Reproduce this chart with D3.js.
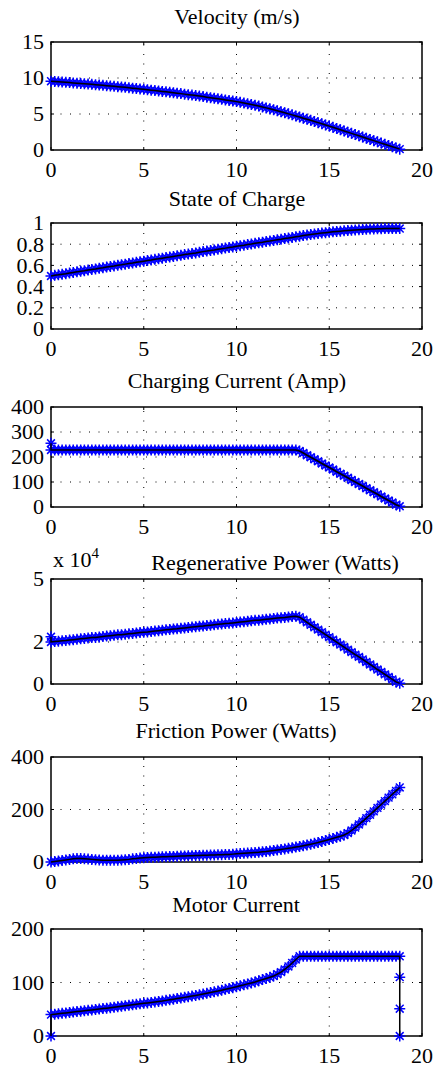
<!DOCTYPE html>
<html lang="en">
<head>
<meta charset="utf-8">
<title>Regenerative braking run</title>
<script src="https://d3js.org/d3.v7.min.js"></script>
<style>
  body { margin: 0; background: #fff; font-family: 'Liberation Serif', 'DejaVu Serif', serif; }
  .tick-label { font-size: 22px; }
  .title { font-size: 22px; text-anchor: middle; }
  .grid { stroke: #000; stroke-width: 1; stroke-dasharray: 1, 8.5; fill: none; }
  .frame { fill: none; stroke: #000; stroke-width: 1.5; }
  .tickmark { stroke: #000; stroke-width: 1; }
  .marker { fill: none; stroke: #0000ff; stroke-width: 1.5; }
  .trace { fill: none; stroke: #000; stroke-width: 1.5; }
</style>
</head>
<body>
<script>

// Time base (s)
var time = [
  0, 0.2, 0.4, 0.6, 0.8, 1.0, 1.2, 1.4, 1.6, 1.8, 2.0, 2.2, 2.4, 2.6, 2.8, 3.0,
  3.2, 3.4, 3.6, 3.8, 4.0, 4.2, 4.4, 4.6, 4.8, 5.0, 5.2, 5.4, 5.6, 5.8, 6.0,
  6.2, 6.4, 6.6, 6.8, 7.0, 7.2, 7.4, 7.6, 7.8, 8.0, 8.2, 8.4, 8.6, 8.8, 9.0,
  9.2, 9.4, 9.6, 9.8, 10.0, 10.2, 10.4, 10.6, 10.8, 11.0, 11.2, 11.4, 11.6, 11.8, 12.0,
  12.2, 12.4, 12.6, 12.8, 13.0, 13.2, 13.4, 13.6, 13.8, 14.0, 14.2, 14.4, 14.6, 14.8, 15.0,
  15.2, 15.4, 15.6, 15.8, 16.0, 16.2, 16.4, 16.6, 16.8, 17.0, 17.2, 17.4, 17.6, 17.8, 18.0,
  18.2, 18.4, 18.6, 18.8
];

var velocity = [
  9.55, 9.51, 9.47, 9.44, 9.40, 9.36, 9.32, 9.28, 9.24, 9.20, 9.16, 9.12, 9.07, 9.03, 8.98, 8.94,
  8.89, 8.84, 8.80, 8.75, 8.70, 8.65, 8.59, 8.54, 8.48, 8.43, 8.37, 8.31, 8.26, 8.20, 8.14,
  8.08, 8.02, 7.95, 7.89, 7.83, 7.76, 7.69, 7.63, 7.56, 7.49, 7.42, 7.34, 7.27, 7.19, 7.12,
  7.04, 6.96, 6.88, 6.80, 6.72, 6.62, 6.52, 6.42, 6.32, 6.22, 6.10, 5.97, 5.85, 5.72, 5.60,
  5.46, 5.31, 5.17, 5.02, 4.88, 4.73, 4.58, 4.42, 4.27, 4.12, 3.96, 3.80, 3.64, 3.48, 3.32,
  3.15, 2.98, 2.82, 2.65, 2.48, 2.31, 2.14, 1.97, 1.80, 1.63, 1.46, 1.30, 1.13, 0.96, 0.79,
  0.62, 0.46, 0.29, 0.12
];

var stateOfCharge = [
  0.500, 0.506, 0.511, 0.517, 0.522, 0.528, 0.534, 0.539, 0.545, 0.550, 0.556, 0.562, 0.567, 0.573, 0.578, 0.584,
  0.590, 0.595, 0.601, 0.606, 0.612, 0.618, 0.623, 0.629, 0.634, 0.640, 0.646, 0.651, 0.657, 0.662, 0.668,
  0.674, 0.679, 0.685, 0.690, 0.696, 0.702, 0.707, 0.713, 0.718, 0.724, 0.730, 0.735, 0.741, 0.746, 0.752,
  0.758, 0.763, 0.769, 0.774, 0.780, 0.786, 0.791, 0.797, 0.802, 0.808, 0.814, 0.819, 0.825, 0.830, 0.836,
  0.842, 0.847, 0.853, 0.858, 0.864, 0.870, 0.875, 0.881, 0.886, 0.891, 0.896, 0.900, 0.905, 0.909, 0.913,
  0.917, 0.920, 0.923, 0.926, 0.929, 0.932, 0.935, 0.937, 0.939, 0.941, 0.943, 0.944, 0.945, 0.946, 0.947,
  0.948, 0.948, 0.948, 0.948
];

var chargingCurrent = [
  228, 228, 228, 228, 228, 228, 228, 228, 228, 228, 228, 228, 228, 228, 228, 228,
  228, 228, 228, 228, 228, 228, 228, 228, 228, 228, 228, 228, 228, 228, 228,
  228, 228, 228, 228, 228, 228, 228, 228, 228, 228, 228, 228, 228, 228, 228,
  228, 228, 228, 228, 228, 228, 228, 228, 228, 228, 228, 228, 228, 228, 228,
  228, 228, 228, 228, 228, 228, 224, 216, 207, 199, 191, 183, 174, 166, 158,
  150, 141, 133, 125, 117, 108, 100, 92, 84, 75, 67, 59, 51, 42, 34,
  26, 18, 9, 3
];
var chargingStart = [255];

// Regenerative power, in units of 10^4 W
var regenPower = [
  2.00, 2.02, 2.04, 2.06, 2.07, 2.09, 2.11, 2.13, 2.15, 2.17, 2.19, 2.21, 2.22, 2.24, 2.26, 2.28,
  2.30, 2.32, 2.34, 2.35, 2.37, 2.39, 2.41, 2.43, 2.45, 2.47, 2.48, 2.50, 2.52, 2.54, 2.56,
  2.58, 2.60, 2.62, 2.63, 2.65, 2.67, 2.69, 2.71, 2.73, 2.75, 2.76, 2.78, 2.80, 2.82, 2.84,
  2.86, 2.88, 2.89, 2.91, 2.93, 2.95, 2.97, 2.99, 3.01, 3.03, 3.04, 3.06, 3.08, 3.10, 3.12,
  3.14, 3.16, 3.17, 3.19, 3.21, 3.23, 3.18, 3.06, 2.94, 2.82, 2.70, 2.59, 2.47, 2.35, 2.23,
  2.11, 1.99, 1.88, 1.76, 1.64, 1.52, 1.40, 1.29, 1.17, 1.05, 0.93, 0.81, 0.69, 0.58, 0.46,
  0.34, 0.22, 0.10, 0.03
];
var regenStart = [2.25];

var frictionPower = [
  0, 2, 4, 6, 8, 10, 12, 13, 13, 12, 11, 10, 9, 8, 7, 7,
  7, 7, 7, 8, 9, 10, 12, 13, 15, 16, 17, 18, 18, 19, 20,
  20, 21, 21, 22, 23, 23, 24, 24, 25, 25, 26, 26, 27, 27, 28,
  28, 29, 29, 30, 31, 32, 33, 34, 35, 36, 37, 39, 40, 42, 44,
  46, 48, 50, 52, 54, 57, 59, 62, 65, 68, 71, 74, 78, 82, 86,
  90, 94, 98, 103, 110, 120, 131, 143, 155, 167, 180, 193, 206, 219, 232,
  245, 258, 271, 284
];

var motorCurrent = [
  40.0, 40.8, 41.6, 42.4, 43.2, 44.0, 44.8, 45.6, 46.4, 47.2, 48.0, 48.8, 49.6, 50.4, 51.2, 52.0,
  52.9, 53.8, 54.7, 55.6, 56.5, 57.4, 58.3, 59.2, 60.1, 61.0, 61.9, 62.8, 63.7, 64.6, 65.5,
  66.6, 67.7, 68.8, 69.9, 71.0, 72.2, 73.4, 74.6, 75.8, 77.0, 78.4, 79.8, 81.2, 82.6, 84.0,
  85.6, 87.2, 88.8, 90.4, 92.0, 93.8, 95.6, 97.4, 99.2, 101.0, 103.2, 105.4, 107.6, 109.8, 112.0,
  115.5, 119.5, 124.5, 130.0, 136.5, 143.0, 149, 149, 149, 149, 149, 149, 149, 149, 149,
  149, 149, 149, 149, 149, 149, 149, 149, 149, 149, 149, 149, 149, 149, 149,
  149, 149, 149, 149
];
var motorStart = [0];
var motorEnd = [110, 51, 0];

var xTicks = [0, 5, 10, 15, 20];

// Layout
var width = 435;
var height = 1067;
var left = 51;
var right = 422;
var serif = "'Liberation Serif', 'DejaVu Serif', 'Times New Roman', Times, serif";

var panels = [
  { title: "Velocity (m/s)", values: velocity, yMax: 15, yTicks: [0, 5, 10, 15],
    top: 42, bottom: 150, titleX: 237, titleY: 24 },
  { title: "State of Charge", values: stateOfCharge, yMax: 1, yTicks: [0, 0.2, 0.4, 0.6, 0.8, 1],
    top: 223, bottom: 329, titleX: 237, titleY: 206 },
  { title: "Charging Current (Amp)", values: chargingCurrent, head: chargingStart, yMax: 400,
    yTicks: [0, 100, 200, 300, 400], top: 407, bottom: 507, titleX: 237, titleY: 388 },
  { title: "Regenerative Power (Watts)", values: regenPower, head: regenStart, yMax: 5,
    yTicks: [0, 2, 5], top: 579, bottom: 684, titleX: 275, titleY: 570, exponent: "4" },
  { title: "Friction Power (Watts)", values: frictionPower, yMax: 400, yTicks: [0, 200, 400],
    top: 757, bottom: 862, titleX: 236, titleY: 738 },
  { title: "Motor Current", values: motorCurrent, head: motorStart, tail: motorEnd, yMax: 200,
    yTicks: [0, 100, 200], top: 929, bottom: 1036, titleX: 236, titleY: 912 }
];

var asterisk = "M-5.5,0H5.5M0,-5.5V5.5M-3.9,-3.9L3.9,3.9M-3.9,3.9L3.9,-3.9";

var svg = d3.select("body").append("svg")
  .attr("width", width)
  .attr("height", height)
  .attr("font-family", serif);

var x = d3.scaleLinear().domain([0, 20]).range([left, right]);

panels.forEach(function(p) {
  var y = d3.scaleLinear().domain([0, p.yMax]).range([p.bottom, p.top]);
  var g = svg.append("g");

  // points: optional head at t=0, main series, optional tail at last time
  var last = time[time.length - 1];
  var pts = (p.head || []).map(function(v) { return [0, v]; })
    .concat(time.map(function(t, i) { return [t, p.values[i]]; }))
    .concat((p.tail || []).map(function(v) { return [last, v]; }));

  // dotted grid
  g.selectAll(".gx").data(xTicks.filter(function(t) { return t > 0 && t < 20; }))
    .enter().append("line")
    .attr("class", "grid")
    .attr("x1", function(d) { return x(d); }).attr("x2", function(d) { return x(d); })
    .attr("y1", p.bottom).attr("y2", p.top);

  g.selectAll(".gy").data(p.yTicks.filter(function(t) { return t > 0 && t < p.yMax; }))
    .enter().append("line")
    .attr("class", "grid")
    .attr("x1", left).attr("x2", right)
    .attr("y1", function(d) { return y(d); }).attr("y2", function(d) { return y(d); });

  // inward ticks on all four sides
  xTicks.forEach(function(t) {
    g.append("line").attr("class", "tickmark")
      .attr("x1", x(t)).attr("x2", x(t)).attr("y1", p.bottom).attr("y2", p.bottom - 3);
    g.append("line").attr("class", "tickmark")
      .attr("x1", x(t)).attr("x2", x(t)).attr("y1", p.top).attr("y2", p.top + 3);
  });
  p.yTicks.forEach(function(t) {
    g.append("line").attr("class", "tickmark")
      .attr("x1", left).attr("x2", left + 3).attr("y1", y(t)).attr("y2", y(t));
    g.append("line").attr("class", "tickmark")
      .attr("x1", right).attr("x2", right - 3).attr("y1", y(t)).attr("y2", y(t));
  });

  g.append("rect")
    .attr("class", "frame")
    .attr("x", left).attr("y", p.top)
    .attr("width", right - left).attr("height", p.bottom - p.top);

  // tick labels
  g.selectAll(".xl").data(xTicks).enter().append("text")
    .attr("class", "tick-label")
    .attr("font-family", serif)
    .attr("x", function(d) { return x(d); })
    .attr("y", p.bottom + 27)
    .attr("text-anchor", "middle")
    .text(function(d) { return d; });

  g.selectAll(".yl").data(p.yTicks).enter().append("text")
    .attr("class", "tick-label")
    .attr("font-family", serif)
    .attr("x", left - 7)
    .attr("y", function(d) { return y(d); })
    .attr("dy", "0.34em")
    .attr("text-anchor", "end")
    .text(function(d) { return String(d); });

  // blue asterisks, then black line on top
  g.selectAll(".marker").data(pts).enter().append("path")
    .attr("class", "marker")
    .attr("transform", function(d) { return "translate(" + x(d[0]) + "," + y(d[1]) + ")"; })
    .attr("d", asterisk);

  g.append("path")
    .attr("class", "trace")
    .attr("d", d3.line().x(function(d) { return x(d[0]); }).y(function(d) { return y(d[1]); })(pts));

  g.append("text")
    .attr("class", "title")
    .attr("font-family", serif)
    .attr("x", p.titleX)
    .attr("y", p.titleY)
    .text(p.title);

  if (p.exponent) {
    var ex = g.append("text")
      .attr("class", "tick-label")
      .attr("font-family", serif)
      .attr("x", left + 2)
      .attr("y", p.top - 12);
    ex.append("tspan").text("x 10");
    ex.append("tspan").attr("dy", -9).style("font-size", "15px").text(p.exponent);
  }
});
</script>
</body>
</html>
